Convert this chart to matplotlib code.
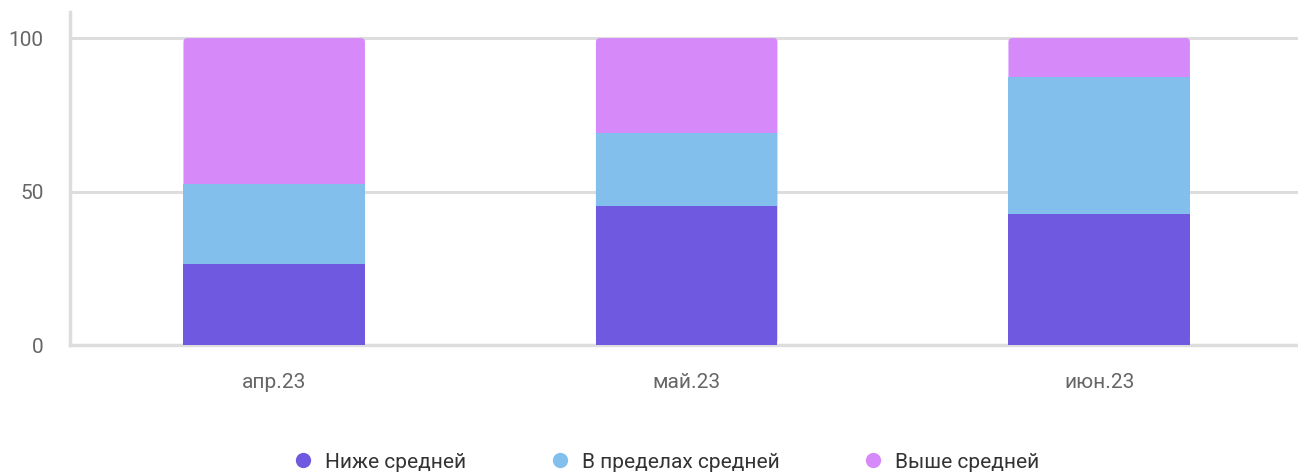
import matplotlib
matplotlib.use("Agg")
import matplotlib.pyplot as plt
from matplotlib.lines import Line2D
from matplotlib.patches import FancyBboxPatch

plt.rcParams['font.family'] = ['Roboto', 'DejaVu Sans']

categories = ["апр.23", "май.23", "июн.23"]
below = [26.4, 45.3, 42.7]
within = [26.2, 23.7, 44.5]
above = [47.4, 31.0, 12.8]
series_names = ["Ниже средней", "В пределах средней", "Выше средней"]
colors = ["#6E59E0", "#83BFED", "#D68AFA"]
yticks = [0, 50, 100]

fig = plt.figure(figsize=(12.98, 4.73), dpi=100)
ax = fig.add_axes([70/1298, 1 - 345/473, (1298-70)/1298, (345-12)/473])

x = list(range(len(categories)))
w = 0.44
bottom = [0]*len(categories)
for i, (vals, c) in enumerate(zip([below, within, above], colors)):
    bars = ax.bar(x, vals, width=w, bottom=bottom, color=c, zorder=3, linewidth=0)
    if i == 2:
        # rounded top corners for the top segment
        for b in bars:
            x0, y0 = b.get_x(), b.get_y()
            bw, bh = b.get_width(), b.get_height()
            b.remove()
            p = FancyBboxPatch((x0, 0), bw, y0 + bh,
                               boxstyle="round,pad=0,rounding_size=0.0095",
                               mutation_aspect=137, facecolor=c, linewidth=0, zorder=2)
            ax.add_patch(p)
    bottom = [b + v for b, v in zip(bottom, vals)]

ax.set_xlim(-0.495, 2.482)
ax.set_ylim(0, 108.5)
ax.set_yticks(yticks)
ax.set_xticks(x)
ax.set_xticklabels(categories)
ax.tick_params(axis='both', length=0, labelsize=15, labelcolor='#666666')
ax.tick_params(axis='y', pad=19)
ax.tick_params(axis='x', pad=20)
ax.grid(axis='y', color='#DDDDDD', linewidth=2.2, zorder=0)
for s in ['top', 'right']:
    ax.spines[s].set_visible(False)
for s in ['left', 'bottom']:
    ax.spines[s].set_color('#DDDDDD')
    ax.spines[s].set_linewidth(2.5)

handles = [Line2D([], [], marker='o', linestyle='none', markersize=11,
                  markerfacecolor=c, markeredgewidth=0) for c in colors]
fig.legend(handles, series_names, loc='center', bbox_to_anchor=(666/1298, 1 - 462/473),
           ncol=3, frameon=False, fontsize=15, labelcolor='#333333',
           handletextpad=0.55, columnspacing=4.0, handlelength=1.0)

fig.savefig("out.png", dpi=100)
